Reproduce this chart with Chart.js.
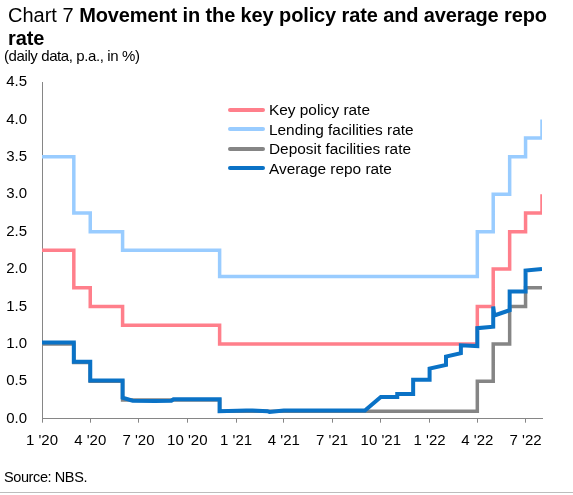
<!DOCTYPE html>
<html>
<head>
<meta charset="utf-8">
<script src="https://cdn.jsdelivr.net/npm/chart.js@4/dist/chart.umd.min.js"></script>
<style>
  body { margin: 0; background: #fff; font-family: "Liberation Sans", Arial, sans-serif; }
  #wrap { position: relative; width: 573px; height: 495px; overflow: hidden; }
  #title { position: absolute; left: 8px; top: 4px; width: 558px; font-size: 20px; line-height: 23px; color: #000; }
  #title b { font-weight: bold; letter-spacing: -0.12px; }
  #sub { position: absolute; left: 4px; top: 47px; font-size: 15px; color: #000; letter-spacing: -0.4px; }
  #source { position: absolute; left: 4px; top: 469px; font-size: 14.5px; color: #000; letter-spacing: -0.4px; }
  #rule { position: absolute; left: 0; top: 492px; width: 573px; height: 0; border-top: 1px solid #bdbdbd; }
  #legend { position: absolute; left: 228px; top: 100px; font-size: 15.4px; color: #000; }
  #legend div { height: 19.5px; line-height: 19.5px; white-space: nowrap; }
  #legend span { display: inline-block; width: 37px; height: 4px; border-radius: 2px; vertical-align: middle; margin-right: 4px; position: relative; top: -1px; }
  canvas { position: absolute; left: 0; top: 0; }
</style>
</head>
<body>
<div id="wrap">
  <canvas id="rateChart" width="573" height="495"></canvas>
  <div id="title">Chart 7 <b>Movement in the key policy rate and average repo rate</b></div>
  <div id="sub">(daily data, p.a., in %)</div>
  <div id="legend"></div>
  <div id="source">Source: NBS.</div>
  <div id="rule"></div>
</div>
<script>
// x axis ticks (quarters)
var tickDates = ["2020-01-01", "2020-04-01", "2020-07-01", "2020-10-01", "2021-01-01", "2021-04-01",
                 "2021-07-01", "2021-10-01", "2022-01-01", "2022-04-01", "2022-07-01"];
var tickLabels = ["1 '20", "4 '20", "7 '20", "10 '20", "1 '21", "4 '21", "7 '21", "10 '21", "1 '22", "4 '22", "7 '22"];
var startDate = "2020-01-01";
var endDate = "2022-08-01";

// policy rates: value valid from each date on
var policyDates = ["2020-01-01", "2020-03-01", "2020-04-01", "2020-06-01", "2020-12-01",
                   "2022-04-01", "2022-05-01", "2022-06-01", "2022-07-01", "2022-08-01"];
var keyRate     = [2.25, 1.75, 1.50, 1.25, 1.00, 1.50, 2.00, 2.50, 2.75, 3.00];
var lendingRate = [3.50, 2.75, 2.50, 2.25, 1.90, 2.50, 3.00, 3.50, 3.75, 4.00];
var depositRate = [1.00, 0.75, 0.50, 0.25, 0.10, 0.50, 1.00, 1.50, 1.75, 1.75];

// average repo rate
var repoDates = ["2020-01-01", "2020-03-01", "2020-03-01", "2020-04-01", "2020-04-01", "2020-06-01",
                 "2020-06-01", "2020-06-20", "2020-08-01", "2020-09-01", "2020-09-05", "2020-12-01",
                 "2020-12-01", "2021-01-20", "2021-02-01", "2021-03-01", "2021-03-05", "2021-04-01",
                 "2021-09-01", "2021-10-01", "2021-11-01", "2021-11-01", "2021-12-01", "2021-12-01",
                 "2022-01-01", "2022-01-01", "2022-02-01", "2022-02-01", "2022-03-01", "2022-03-01",
                 "2022-04-01", "2022-04-01", "2022-05-01", "2022-05-01", "2022-05-03", "2022-06-01",
                 "2022-06-01", "2022-07-01", "2022-07-01", "2022-08-01"];
var repoRate = [1.02, 1.02, 0.76, 0.76, 0.51, 0.51,
                0.28, 0.24, 0.235, 0.24, 0.26, 0.26,
                0.10, 0.11, 0.11, 0.10, 0.09, 0.11,
                0.11, 0.29, 0.29, 0.33, 0.33, 0.52,
                0.52, 0.67, 0.72, 0.83, 0.875, 0.98,
                0.97, 1.21, 1.23, 1.50, 1.38, 1.45,
                1.70, 1.70, 1.98, 2.00];

var yTicks = [0, 0.5, 1, 1.5, 2, 2.5, 3, 3.5, 4, 4.5];

function dayOf(d) {
  return (Date.parse(d) - Date.parse(startDate)) / 86400000;
}
function toPoints(dates, vals) {
  return dates.map(function (d, i) { return { x: dayOf(d), y: vals[i] }; });
}

var datasets = [
  { label: "Key policy rate", data: toPoints(policyDates, keyRate), borderColor: "#ff7f8b",
    borderWidth: 3.5, stepped: "before", order: 2 },
  { label: "Lending facilities rate", data: toPoints(policyDates, lendingRate), borderColor: "#99ccff",
    borderWidth: 3.5, stepped: "before", order: 3 },
  { label: "Deposit facilities rate", data: toPoints(policyDates, depositRate), borderColor: "#858585",
    borderWidth: 3.5, stepped: "before", order: 4 },
  { label: "Average repo rate", data: toPoints(repoDates, repoRate), borderColor: "#0a72c6",
    borderWidth: 4, order: 1 }
];

var legend = document.getElementById("legend");
datasets.forEach(function (ds) {
  var row = document.createElement("div");
  var sw = document.createElement("span");
  sw.style.background = ds.borderColor;
  row.appendChild(sw);
  row.appendChild(document.createTextNode(ds.label));
  legend.appendChild(row);
});

var config = {
  type: "line",
  data: { datasets: datasets },
  options: {
    responsive: false,
    animation: false,
    events: [],
    elements: { point: { radius: 0 }, line: { tension: 0, fill: false, borderCapStyle: "butt", borderJoinStyle: "miter" } },
    layout: { padding: { left: 0, right: 31, top: 82, bottom: 36.3 } },
    plugins: { legend: { display: false }, tooltip: { enabled: false } },
    scales: {
      x: {
        type: "linear",
        min: dayOf(startDate),
        max: dayOf(endDate),
        afterBuildTicks: function (scale) {
          scale.ticks = tickDates.map(function (d) { return { value: dayOf(d) }; });
        },
        ticks: {
          autoSkip: false,
          maxRotation: 0,
          padding: 9,
          color: "#000",
          font: { family: "Liberation Sans", size: 15 },
          callback: function (v, i) { return tickLabels[i]; }
        },
        grid: { drawOnChartArea: false, drawTicks: true, tickLength: 4, color: "#868686", lineWidth: 1 },
        border: { display: true, color: "#868686", width: 1 }
      },
      y: {
        min: 0,
        max: 4.5,
        afterBuildTicks: function (scale) {
          scale.ticks = yTicks.map(function (v) { return { value: v }; });
        },
        afterFit: function (scale) { scale.width = 42; },
        ticks: {
          padding: 15,
          color: "#000",
          font: { family: "Liberation Sans", size: 15 },
          callback: function (v) { return Number(v).toFixed(1); }
        },
        grid: { display: false, drawTicks: false },
        border: { display: true, color: "#868686", width: 1 }
      }
    }
  }
};

var rateChart = new Chart(document.getElementById("rateChart"), config);
</script>
</body>
</html>
